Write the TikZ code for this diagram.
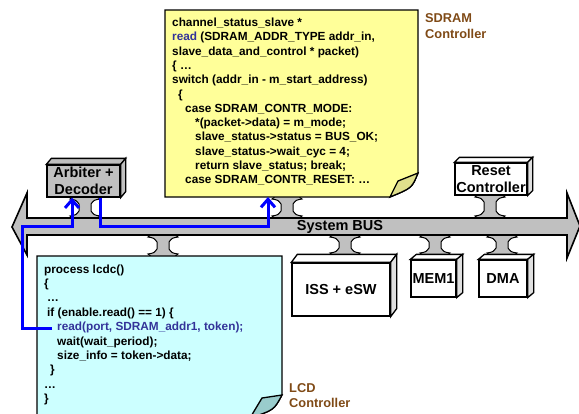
\documentclass[tikz,border=0pt]{standalone}
\usepackage{fontspec}
\setmainfont{Liberation Sans}
\usetikzlibrary{arrows.meta}
\definecolor{sdyellow}{HTML}{FFFF99}
\definecolor{sdflap}{HTML}{E0E08C}
\definecolor{lcdcyan}{HTML}{CCFFFF}
\definecolor{lcdflap}{HTML}{99CCCC}
\definecolor{busgray}{HTML}{C0C0C0}
\definecolor{labelbrown}{HTML}{7F4A16}
\definecolor{codeblue}{HTML}{333399}
\definecolor{linkblue}{HTML}{0000FF}
\newcommand\busconn[3]{% x, y top, y bottom
  \filldraw[conn] (#1,#2-10) -- (#1+15,#2+2) .. controls (#1+9,#2+3) .. (#1+6,#2+7)
    -- (#1+6,#3-7) .. controls (#1+9,#3-3) .. (#1+15,#3-2) -- (#1,#3+10)
    -- (#1-15,#3-2) .. controls (#1-9,#3-3) .. (#1-6,#3-7)
    -- (#1-6,#2+7) .. controls (#1-9,#2+3) .. (#1-15,#2+2) -- cycle;
}
\newcommand\depthfaces[5]{% node, top fill, side fill, dx, dy
  \filldraw[outline, fill=#2] (#1.north west) -- ++(#4,-#5) -- ([shift={(#4,-#5)}]#1.north east) -- (#1.north east) -- cycle;
  \filldraw[outline, fill=#3] (#1.north east) -- ++(#4,-#5) -- ([shift={(#4,-#5)}]#1.south east) -- (#1.south east) -- cycle;
}
\begin{document}
\begin{tikzpicture}[x=1pt,y=-1pt,
  outline/.style={draw=black, line width=1.3pt, line join=miter},
  conn/.style={fill=busgray, draw=black, line width=1pt},
  box/.style={outline, inner sep=0pt, font=\fontsize{14.5}{16.5}\selectfont\bfseries, align=center},
  code/.style={inner sep=0pt, anchor=base west, font=\fontsize{11.8}{14}\selectfont\bfseries},
  lbl/.style={inner sep=0pt, anchor=base west, text=labelbrown, font=\fontsize{12.8}{15}\selectfont\bfseries},
  link/.style={draw=linkblue, line width=3pt},
  ]
\useasboundingbox (0,0) rectangle (579,413);
\clip (0,0) rectangle (579,413);

% vertical bus connectors
\busconn{85}{197}{218}
\busconn{287}{197}{218}
\busconn{490}{195}{218}
\busconn{163}{235}{256}
\busconn{345}{235}{255}
\busconn{435}{235}{255}
\busconn{502}{235}{255}

% system bus
\filldraw[outline, fill=busgray, line width=1.6pt] (12,227) -- (27,193) -- (27,218) -- (567,218) -- (567,193)
  -- (580,226) -- (567,258) -- (567,235) -- (27,235) -- (27,255) -- cycle;
\node[inner sep=0pt, font=\fontsize{14.5}{16}\selectfont\bfseries] (bustxt) at (340,227) {System BUS};

% 3D boxes
\node[box, fill=busgray, minimum width=73pt, minimum height=32pt] (arb) at (83.5,181) {Arbiter +\\Decoder};
\depthfaces{arb}{busgray}{busgray}{5}{6}
\node[box, fill=white, minimum width=72pt, minimum height=32pt] (rst) at (491,179) {Reset\\Controller};
\depthfaces{rst}{white}{white!88!black}{5}{5}
\node[box, fill=white, minimum width=98pt, minimum height=53pt] (iss) at (341,289.5) {ISS + eSW};
\depthfaces{iss}{white}{white!88!black}{6}{8}
\node[box, fill=white, minimum width=45pt, minimum height=37pt] (mem) at (433.5,278.5) {MEM1};
\depthfaces{mem}{white}{white!88!black}{6}{5}
\node[box, fill=white, minimum width=48pt, minimum height=37pt] (dma) at (503,278.5) {DMA};
\depthfaces{dma}{white}{white!88!black}{6}{5}

% SDRAM note
\filldraw[outline, fill=sdyellow] (165,10) -- (418,10) -- (418,173) .. controls (412,188) .. (390,197) -- (165,197) -- cycle;
\filldraw[outline, fill=sdflap] (390,197) -- (398,181) -- (418,173) .. controls (412,188) .. (390,197) -- cycle;
\foreach \cl [count=\i] in {
  channel\_status\_slave *,
  {{\color{codeblue}read} (SDRAM\_ADDR\_TYPE addr\_in,},
  slave\_data\_and\_control * packet),
  \{ …,
  switch (addr\_in - m\_start\_address),
  \hspace*{6pt}\{,
  \hspace*{13pt}case SDRAM\_CONTR\_MODE:,
  \hspace*{23pt}*(packet->data) = m\_mode;,
  \hspace*{23pt}slave\_status->status = BUS\_OK;,
  \hspace*{23pt}slave\_status->wait\_cyc = 4;,
  \hspace*{23pt}return slave\_status; break;,
  \hspace*{13pt}case SDRAM\_CONTR\_RESET: …}
  \node[code] (sd\i) at (172,{26.5+(\i-1)*14.3}) {\cl};
\node[lbl] (sdl1) at (425,22.5) {SDRAM};
\node[lbl] (sdl2) at (425,38.5) {Controller};

% LCD note
\filldraw[outline, fill=lcdcyan] (37,256) -- (282,256) -- (282,395) .. controls (274,410) .. (250,418) -- (37,418) -- cycle;
\filldraw[outline, fill=lcdflap] (282,395) -- (262,398) -- (250,418) .. controls (274,410) .. (282,395) -- cycle;
\foreach \cl [count=\i] in {
  process lcdc(),
  \{,
  \hspace*{3pt}…,
  \hspace*{3pt}if (enable.read() == 1) \{,
  {\hspace*{13pt}{\color{codeblue}read(port, SDRAM\_addr1, token);}},
  \hspace*{13pt}wait(wait\_period);,
  \hspace*{13pt}size\_info = token->data;,
  \hspace*{6pt}\},
  …,
  \}}
  \node[code] (lcd\i) at (44,{273+(\i-1)*14.4}) {\cl};
\node[lbl] (lcdl1) at (289,392) {LCD};
\node[lbl] (lcdl2) at (289,407) {Controller};

% blue read path
\coordinate (readpt) at (52,328);
\coordinate (sdbot) at (268,197);
\draw[link, -{Straight Barb[length=8pt,width=14pt]}] (readpt) -- (22,328) -- (22,226) -| ([xshift=-11.5pt]arb.south);
\draw[link, -{Straight Barb[length=8pt,width=14pt]}] ([xshift=16.5pt]arb.south) -- ++(0,29) -| (sdbot);
\end{tikzpicture}
\end{document}
